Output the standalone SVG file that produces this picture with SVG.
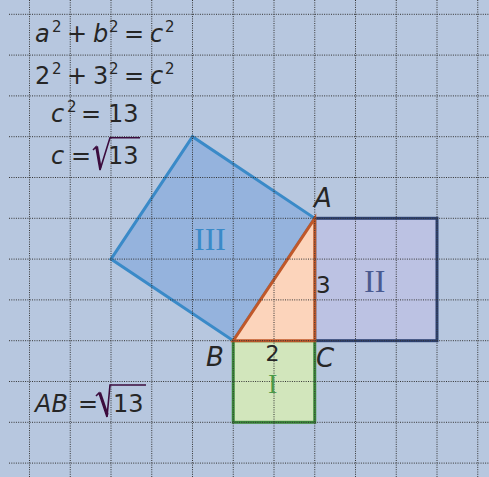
<svg xmlns="http://www.w3.org/2000/svg" width="489" height="477" viewBox="0 0 489 477">
<style>
.t{font-family:"DejaVu Sans","Verdana",sans-serif;font-size:24px;fill:#262626}
.i{font-style:italic}
.s{font-size:15px}
.rn{font-family:"Liberation Serif","Times New Roman",serif;font-size:32px}
.grid line{stroke:#333;stroke-width:1;stroke-dasharray:1 1.3}
.rad{fill:none;stroke:#3c0c3e;stroke-width:1.6;stroke-linejoin:miter}
</style>
<rect width="489" height="477" fill="#b7c7df"/>
<g id="square-III">
<polygon points="314.75,218.3 233.25,340.7 111,259.1 192.5,136.7" fill="#95b3dd" stroke="#3a8ac8" stroke-width="3" stroke-linejoin="miter"/>
</g>
<g id="square-II">
<rect x="314.75" y="218.3" width="122.25" height="122.4" fill="#bcc2e3" stroke="#2e4272" stroke-width="3"/>
</g>
<g id="square-I">
<rect x="233.25" y="340.7" width="81.5" height="81.6" fill="#d2e6bc" stroke="#3c8a3a" stroke-width="3"/>
</g>
<g id="triangle-ABC">
<polygon points="314.75,218.3 233.25,340.7 314.75,340.7" fill="#fcd4bb" stroke="#c0582a" stroke-width="3" stroke-linejoin="miter"/>
</g>
<g id="connectors"></g>
<g class="grid" id="grid">
<line x1="29.5" y1="0" x2="29.5" y2="477"/>
<line x1="70.25" y1="0" x2="70.25" y2="477"/>
<line x1="111" y1="0" x2="111" y2="477"/>
<line x1="151.75" y1="0" x2="151.75" y2="477"/>
<line x1="192.5" y1="0" x2="192.5" y2="477"/>
<line x1="233.25" y1="0" x2="233.25" y2="477"/>
<line x1="274" y1="0" x2="274" y2="477"/>
<line x1="314.75" y1="0" x2="314.75" y2="477"/>
<line x1="355.5" y1="0" x2="355.5" y2="477"/>
<line x1="396.25" y1="0" x2="396.25" y2="477"/>
<line x1="437" y1="0" x2="437" y2="477"/>
<line x1="477.75" y1="0" x2="477.75" y2="477"/>
<line x1="9" y1="14.3" x2="489" y2="14.3"/>
<line x1="9" y1="55.1" x2="489" y2="55.1"/>
<line x1="9" y1="95.9" x2="489" y2="95.9"/>
<line x1="9" y1="136.7" x2="489" y2="136.7"/>
<line x1="9" y1="177.5" x2="489" y2="177.5"/>
<line x1="9" y1="218.3" x2="489" y2="218.3"/>
<line x1="9" y1="259.1" x2="489" y2="259.1"/>
<line x1="9" y1="299.9" x2="489" y2="299.9"/>
<line x1="9" y1="340.7" x2="489" y2="340.7"/>
<line x1="9" y1="381.5" x2="489" y2="381.5"/>
<line x1="9" y1="422.3" x2="489" y2="422.3"/>
<line x1="9" y1="463.1" x2="489" y2="463.1"/>
</g>
<g id="equation-1">
<text class="t" y="42"><tspan class="i" x="35">a</tspan><tspan class="s" x="52" y="32">2</tspan><tspan x="67" y="42">+</tspan><tspan class="i" x="93">b</tspan><tspan class="s" x="109" y="32">2</tspan><tspan x="124" y="42">=</tspan><tspan class="i" x="150">c</tspan><tspan class="s" x="165" y="32">2</tspan></text>
</g>
<g id="equation-2">
<text class="t" y="84"><tspan x="35">2</tspan><tspan class="s" x="52" y="74">2</tspan><tspan x="67" y="84">+</tspan><tspan x="93">3</tspan><tspan class="s" x="109" y="74">2</tspan><tspan x="124" y="84">=</tspan><tspan class="i" x="150">c</tspan><tspan class="s" x="165" y="74">2</tspan></text>
</g>
<g id="equation-3">
<text class="t" y="122"><tspan class="i" x="51">c</tspan><tspan class="s" x="67" y="112">2</tspan><tspan x="81" y="122">=</tspan><tspan x="108">13</tspan></text>
</g>
<g id="equation-4">
<text class="t" y="164"><tspan class="i" x="51">c</tspan><tspan x="71">=</tspan><tspan x="108">13</tspan></text>
<polyline class="rad" points="93,150 96,147 100,170 110,137.7 140,137.7"/>
<polygon points="96,147 98,146 101.5,167 100,170" fill="#3c0c3e"/>
</g>
<g id="result-AB">
<text class="t" y="412"><tspan class="i" x="35">AB</tspan><tspan x="78">=</tspan><tspan x="113">13</tspan></text>
<polyline class="rad" points="96,396 99,393 107,417 110,385 146,385"/>
<polygon points="99,393 101,392 108.5,414 107,417" fill="#3c0c3e"/>
</g>
<g id="labels">
<text class="t i" x="314" y="207" style="font-size:26px">A</text>
<text class="t i" x="206" y="366" style="font-size:26px">B</text>
<text class="t i" x="316" y="367" style="font-size:26px">C</text>
<text class="t" x="316" y="293" style="font-size:23px">3</text>
<text class="t" x="265.5" y="361" style="font-size:22px">2</text>
<text class="rn" x="194" y="250" fill="#3a8ac8">III</text>
<text class="rn" x="364" y="292" fill="#4a5a90">II</text>
<text class="rn" x="268" y="393" fill="#4a9a48" style="font-size:28px">I</text>
</g>
</svg>
